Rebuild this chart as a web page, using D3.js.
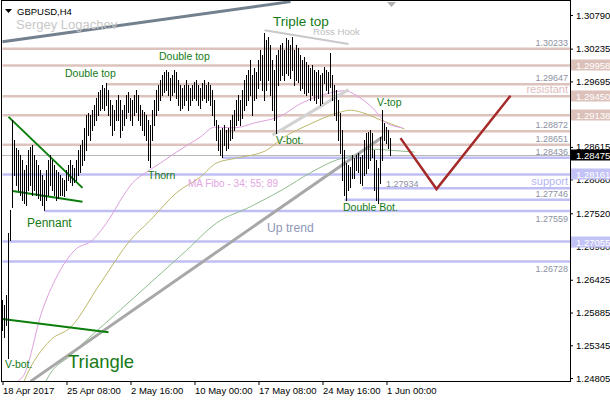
<!DOCTYPE html>
<html><head><meta charset="utf-8">
<script src="https://cdn.jsdelivr.net/npm/d3@7"></script>
<style>
body{margin:0;background:#fff}
svg{display:block}
text{font-family:"Liberation Sans",Arial,sans-serif}
</style>
</head><body>
<script>
// ---------------- DATA ----------------
const symbolLabel = "GBPUSD,H4";
const authorLabel = "Sergey Logachev";
const dateTickBars = [0, 32, 64, 96, 128, 160, 192];
const dateTickLabels = ["18 Apr 2017", "25 Apr 08:00", "2 May 16:00", "10 May 00:00", "17 May 08:00", "24 May 16:00", "1 Jun 00:00"];
const priceTicks = [1.30790, 1.30235, 1.29695, 1.29155, 1.28615, 1.28080, 1.27520, 1.26980, 1.26425, 1.25885, 1.25345, 1.24805];

// H4 bars: highs and lows
const highs = [
1.2609,1.2601,1.2617,1.2720,1.2757,1.2906,1.2873,1.2860,1.2856,1.2848,
1.2840,1.2823,1.2832,1.2856,1.2861,1.2865,1.2848,1.2840,1.2832,1.2823,
1.2815,1.2807,1.2823,1.2840,1.2848,1.2840,1.2832,1.2823,1.2820,1.2815,
1.2810,1.2807,1.2823,1.2832,1.2840,1.2832,1.2827,1.2840,1.2856,1.2865,
1.2873,1.2893,1.2914,1.2918,1.2914,1.2922,1.2931,1.2942,1.2952,1.2956,
1.2964,1.2959,1.2967,1.2956,1.2939,1.2931,1.2922,1.2939,1.2947,1.2939,
1.2922,1.2931,1.2947,1.2952,1.2942,1.2939,1.2947,1.2956,1.2947,1.2931,
1.2922,1.2919,1.2914,1.2906,1.2898,1.2922,1.2939,1.2956,1.2964,1.2972,
1.2980,1.2985,1.2989,1.2985,1.2975,1.2980,1.2989,1.2985,1.2972,1.2964,
1.2959,1.2964,1.2972,1.2964,1.2959,1.2964,1.2969,1.2972,1.2964,1.2959,
1.2967,1.2972,1.2964,1.2969,1.2964,1.2956,1.2939,1.2906,1.2898,1.2889,
1.2893,1.2898,1.2889,1.2893,1.2906,1.2914,1.2922,1.2939,1.2947,1.2939,
1.2956,1.2972,1.2980,1.2989,1.3005,1.2980,1.2992,1.2985,1.3005,1.3022,
1.3013,1.3050,1.3038,1.3043,1.3030,1.3005,1.2989,1.3013,1.3022,1.3030,
1.3033,1.3022,1.3041,1.3038,1.3030,1.3043,1.3022,1.3030,1.3025,1.3013,
1.3005,1.3010,1.3002,1.2997,1.2992,1.2997,1.2989,1.2985,1.2989,1.2980,
1.2984,1.2993,1.2989,1.2985,1.3017,1.2980,1.2964,1.2956,1.2939,1.2918,
1.2889,1.2856,1.2835,1.2832,1.2828,1.2848,1.2843,1.2848,1.2852,1.2845,
1.2848,1.2873,1.2885,1.2886,1.2889,1.2885,1.2856,1.2840,1.2827,1.2878,
1.2922,1.2901,1.2894,1.2889,1.2876];
const lows = [
1.2559,1.2548,1.2568,1.2513,1.2708,1.2762,1.2815,1.2799,1.2790,1.2782,
1.2774,1.2769,1.2766,1.2790,1.2799,1.2782,1.2790,1.2782,1.2777,1.2774,
1.2766,1.2757,1.2774,1.2782,1.2799,1.2790,1.2782,1.2774,1.2777,1.2782,
1.2782,1.2781,1.2790,1.2807,1.2804,1.2799,1.2804,1.2807,1.2815,1.2820,
1.2832,1.2840,1.2856,1.2881,1.2873,1.2889,1.2898,1.2906,1.2914,1.2922,
1.2926,1.2922,1.2931,1.2914,1.2898,1.2881,1.2889,1.2906,1.2906,1.2878,
1.2889,1.2898,1.2909,1.2919,1.2906,1.2898,1.2914,1.2919,1.2906,1.2898,
1.2889,1.2881,1.2873,1.2840,1.2828,1.2873,1.2898,1.2914,1.2922,1.2939,
1.2947,1.2952,1.2956,1.2947,1.2939,1.2947,1.2952,1.2942,1.2931,1.2922,
1.2926,1.2931,1.2939,1.2922,1.2931,1.2939,1.2942,1.2939,1.2931,1.2926,
1.2939,1.2942,1.2936,1.2939,1.2931,1.2914,1.2898,1.2873,1.2856,1.2848,
1.2845,1.2865,1.2856,1.2860,1.2873,1.2876,1.2889,1.2898,1.2906,1.2898,
1.2909,1.2922,1.2931,1.2939,1.2947,1.2914,1.2939,1.2942,1.2959,1.2972,
1.2956,1.2939,1.2956,1.2972,1.2947,1.2922,1.2906,1.2885,1.2964,1.2972,
1.2980,1.2972,1.2984,1.2980,1.2975,1.2989,1.2964,1.2972,1.2969,1.2956,
1.2959,1.2951,1.2947,1.2952,1.2939,1.2947,1.2939,1.2934,1.2942,1.2931,
1.2934,1.2967,1.2956,1.2951,1.2960,1.2939,1.2914,1.2906,1.2873,1.2852,
1.2807,1.2782,1.2774,1.2790,1.2795,1.2810,1.2810,1.2823,1.2820,1.2802,
1.2799,1.2815,1.2819,1.2827,1.2840,1.2845,1.2790,1.2774,1.2769,1.2802,
1.2840,1.2873,1.2868,1.2860,1.2848];
const lastPrice = 1.28475;

// horizontal levels: price and first bar
const resistLevels = [1.30233, 1.29958, 1.29647, 1.29450, 1.29138, 1.28872, 1.28651];
const resistStart  = [0, 0, 52, 0, 0, 111, 0];
const supportLevels = [1.28436, 1.28161, 1.27934, 1.27746, 1.27559, 1.27055, 1.26728];
const supportStart  = [110, 0, 180, 171, 21, 0, 0];
const axisBoxLevels = [1.29958, 1.29450, 1.29138, 1.28161, 1.27055];
const labelBelowLevels = [1.27559, 1.26728];

// moving averages [bar, price]
const ma34 = [[3,1.2469],[10,1.2482],[20,1.2593],[29,1.2659],[36,1.2691],[45,1.2708],[54,1.2746],[60,1.2779],[65,1.2802],[72,1.2820],[79,1.2835],[87,1.2853],[99,1.2878],[106,1.2894],[116,1.2893],[126,1.2901],[140,1.2914],[148,1.2931],[160,1.2947],[171,1.2954],[178,1.2944],[185,1.2926],[192,1.2901],[200,1.2893]];
const ma55 = [[10,1.2469],[11,1.2477],[24,1.2543],[34,1.2564],[49,1.2637],[64,1.2708],[74,1.2741],[87,1.2786],[99,1.2812],[107,1.2835],[117,1.2843],[132,1.2856],[140,1.2876],[153,1.2898],[168,1.2918],[174,1.2922],[180,1.2918],[189,1.2906],[201,1.2891]];
const ma89 = [[21,1.2469],[22,1.2477],[34,1.2518],[59,1.2593],[92,1.2691],[107,1.2736],[124,1.2763],[140,1.2791],[154,1.2819],[167,1.2840],[176,1.2848],[182,1.2858],[194,1.2856],[206,1.2853]];

// drawn objects [bar, price]
const slateLine   = [[0,1.3035],[144,1.3101]];
const rossHookLine = [[131,1.3054],[173,1.3031]];
const vbotLine    = [[135,1.2881],[173,1.2956]];
const upTrendLine = [[14,1.2475],[190,1.2878]];
const pennantUpper = [[3,1.2911],[40,1.2794]];
const pennantLower = [[5,1.2789],[40,1.2771]];
const triangleLine = [[0,1.2578],[53,1.2556]];
const forecastV   = [[199,1.2876],[217,1.2792],[254,1.2946]];

// text annotations
const annoText  = ["Double top","Double top","Triple top","Ross Hook","V-bot.","V-bot.","Triangle","Pennant","Thorn","MA Fibo - 34; 55; 89","Up trend","Double Bot.","V-top"];
const annoBar   = [31.25, 78.25, 135.25, 155.25, 136.75, 1.25, 32.75, 12.25, 72.75, 92.75, 132.25, 170.25, 187.25];
const annoPrice = [1.2977, 1.3005, 1.3061, 1.3046, 1.2866, 1.2497, 1.2497, 1.2729, 1.2809, 1.2795, 1.2721, 1.2756, 1.2929];
const annoKind  = ["pattern","pattern","title","hook","pattern","pattern","big","pen","pattern","ma","trend","pattern","pattern"];

// ---------------- CHART ----------------
const W = 610, H = 400;
const L = 2, R = 570, T = 0, B = 381;
const x = d3.scaleLinear().domain([0, 284]).range([2.5, 570.5]);
const y = d3.scaleLinear().domain([1.24756, 1.31037]).range([B, T]);

const svg = d3.select("body").append("svg").attr("width", W).attr("height", H);
svg.append("defs").append("clipPath").attr("id","plot")
  .append("rect").attr("x",L).attr("y",T).attr("width",R-L).attr("height",B-T);
const g = svg.append("g").attr("clip-path","url(#plot)");

const pink = "#dcc3bd", blue = "#bfbff6";
const colorGreen = "#157a16";

// levels
function level(price, start, color){
  g.append("line").attr("x1", x(start)).attr("x2", R).attr("y1", y(price)).attr("y2", y(price))
   .attr("stroke", color).attr("stroke-width", 2.5);
}
resistLevels.forEach((p,i)=>level(p, resistStart[i], pink));
supportLevels.forEach((p,i)=>level(p, supportStart[i], blue));
// bid line
g.append("line").attr("x1",L).attr("x2",R).attr("y1",Math.round(y(lastPrice))+0.5).attr("y2",Math.round(y(lastPrice))+0.5)
  .attr("stroke","#b8b8b8").attr("stroke-width",1);

// level price texts
const levelFmt = d3.format(".5f");
[...resistLevels, ...supportLevels].forEach(p=>{
  if (axisBoxLevels.includes(p)) return;
  if (p === 1.27934) return;
  const below = labelBelowLevels.includes(p);
  g.append("text").attr("x", 568).attr("y", below ? y(p)+11 : y(p)-3)
   .attr("text-anchor","end").attr("font-size",9).attr("fill","#8d91a3").text(levelFmt(p));
});
g.append("text").attr("x", x(191.75)).attr("y", y(1.27934)-1)
  .attr("font-size",9).attr("fill","#8d91a3").text(levelFmt(1.27934));
g.append("text").attr("x",568).attr("y",y(1.29450)-3).attr("text-anchor","end")
  .attr("font-size",11).attr("fill","#dcbcbc").text("resistant");
g.append("text").attr("x",568).attr("y",y(1.27934)-3).attr("text-anchor","end")
  .attr("font-size",11).attr("fill","#b4b4f4").text("support");

// moving averages
const line = d3.line().x(d=>x(d[0])).y(d=>y(d[1])).curve(d3.curveMonotoneX);
g.append("path").attr("d", line(ma89)).attr("fill","none").attr("stroke","#8fbc8f").attr("stroke-width",1);
g.append("path").attr("d", line(ma55)).attr("fill","none").attr("stroke","#bdb76b").attr("stroke-width",1);
g.append("path").attr("d", line(ma34)).attr("fill","none").attr("stroke","#dda0dd").attr("stroke-width",1);

// trend lines
const straight = d3.line().x(d=>x(d[0])).y(d=>y(d[1]));
function seg(pts, color, w){
  g.append("path").attr("d", straight(pts)).attr("fill","none").attr("stroke",color).attr("stroke-width",w);
}
seg(slateLine, "#72808f", 3);
seg(rossHookLine, "#c8c8c8", 2);
seg(vbotLine, "#d2d2d2", 3);
seg(upTrendLine, "#a8a8a8", 3);
seg(pennantUpper, "#0a7d0a", 2);
seg(pennantLower, "#0a7d0a", 2);
seg(triangleLine, "#0a7d0a", 2);
seg(forecastV, "#a52a2a", 2.5);

// bars
g.append("g").selectAll("line").data(highs).join("line")
  .attr("x1",(d,i)=>x(i)).attr("x2",(d,i)=>x(i))
  .attr("y1",d=>Math.round(y(d))).attr("y2",(d,i)=>Math.round(y(lows[i]))+1)
  .attr("stroke","#000").attr("stroke-width",1).attr("shape-rendering","crispEdges");

// annotations
const kindStyle = {
  pattern:{size:10.5, fill:colorGreen},
  title:{size:13.5, fill:colorGreen},
  pen:{size:12, fill:colorGreen},
  big:{size:18.5, fill:colorGreen},
  hook:{size:9.6, fill:"#c0c0c0"},
  ma:{size:10, fill:"#e2a6e2"},
  trend:{size:12.2, fill:"#8e97b8"}
};
annoText.forEach((t,i)=>{
  const s = kindStyle[annoKind[i]];
  g.append("text").attr("x", x(annoBar[i])).attr("y", y(annoPrice[i]))
   .attr("font-size", s.size).attr("fill", s.fill).text(t);
});

// header
svg.append("path").attr("d","M5,9 L12,9 L8.5,13 Z").attr("fill","#000");
svg.append("text").attr("x",17).attr("y",15).attr("font-size",9.5).attr("fill","#000").text(symbolLabel);
svg.append("text").attr("x",16).attr("y",29).attr("font-size",13).attr("fill","#c8c8c8").text(authorLabel);
// shift marker
svg.append("path").attr("d","M387,2 L396,2 L391.5,7 Z").attr("fill","#b0b0b0");

// frame
svg.append("rect").attr("x",1.5).attr("y",0.5).attr("width",R-1.5).attr("height",B-0.5)
  .attr("fill","none").attr("stroke","#000").attr("stroke-width",1).attr("shape-rendering","crispEdges");

// price axis
const ya = svg.append("g").attr("transform",`translate(${R},0)`)
  .call(d3.axisRight(y).tickValues(priceTicks).tickFormat(d3.format(".5f")).tickSize(3).tickPadding(3));
ya.select(".domain").remove();
ya.selectAll("text").attr("font-size",9.5).attr("fill","#000").attr("font-family","Liberation Sans, Arial, sans-serif");
ya.selectAll("line").attr("stroke","#000");

// axis boxes
function axisBox(p, bg){
  const yy = Math.round(y(p));
  svg.append("rect").attr("x",R+1).attr("y",yy-5.5).attr("width",W-R-1).attr("height",11).attr("fill",bg);
  svg.append("text").attr("x",R+6).attr("y",yy+3.5).attr("font-size",9.5).attr("fill","#fff").text(levelFmt(p));
}
axisBoxLevels.forEach(p=>axisBox(p, resistLevels.includes(p) ? "#dcc0ba" : "#c2c2f7"));
axisBox(lastPrice, "#000");

// date axis
const xa = svg.append("g").attr("transform",`translate(0,${B})`)
  .call(d3.axisBottom(x).tickValues(dateTickBars).tickFormat((d,i)=>dateTickLabels[i]).tickSize(4).tickPadding(2));
xa.select(".domain").remove();
xa.selectAll("line").attr("stroke","#000");
xa.selectAll("text").attr("text-anchor","start").attr("dx",0).attr("font-size",9.5).attr("fill","#000")
  .attr("font-family","Liberation Sans, Arial, sans-serif");
</script>
</body></html>
